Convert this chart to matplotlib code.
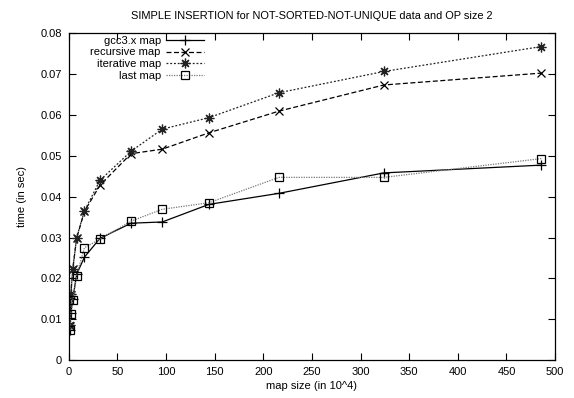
import matplotlib
matplotlib.use("Agg")
import matplotlib.pyplot as plt

# map sizes (in 10^4) and insertion times (sec) per map implementation
sizes = [1, 2, 4, 8, 16, 32, 64, 96, 144, 216, 324, 486]
gcc_map = [0.0075, 0.0115, 0.0150, 0.0210, 0.0252, 0.0298, 0.0335, 0.0338, 0.0381, 0.0408, 0.0458, 0.0477]
recursive_map = [0.0083, 0.0160, 0.0222, 0.0299, 0.0364, 0.0428, 0.0505, 0.0516, 0.0556, 0.0609, 0.0673, 0.0702]
iterative_map = [0.0087, 0.0163, 0.0223, 0.0300, 0.0365, 0.0440, 0.0511, 0.0565, 0.0593, 0.0654, 0.0706, 0.0767]
last_map = [0.0073, 0.0113, 0.0146, 0.0207, 0.0275, 0.0296, 0.0340, 0.0369, 0.0385, 0.0447, 0.0447, 0.0493]

plt.rcParams["font.family"] = ["Liberation Sans", "DejaVu Sans"]
plt.rcParams["font.size"] = 8

fig = plt.figure(figsize=(5.74, 3.98), dpi=100)
ax = fig.add_axes([0.120, 0.095, 0.847, 0.822])

ax.plot(sizes, gcc_map, "-", color="black", lw=0.9, marker="+", ms=6.5, mew=0.9,
        label="gcc3.x map")
ax.plot(sizes, recursive_map, color="black", lw=0.9, ls=(0, (4, 2)), marker="x",
        ms=6, mew=0.9, label="recursive map")
# gnuplot's point type 3: plus and cross on top of each other
ax.plot(sizes, iterative_map, color="#222222", lw=0.9, ls=(0, (1.5, 1.5)),
        marker=(8, 2, 0), ms=7, mew=0.9, label="iterative map")
ax.plot(sizes, last_map, color="#777777", lw=0.9, ls=(0, (1, 1)), marker="s",
        ms=6, mew=0.9, mfc="none", mec="black", label="last map")

ax.set_xlim(0, 500)
ax.set_ylim(0, 0.08)
ax.set_xticks(range(0, 501, 50))
ax.set_yticks([i / 100 for i in range(0, 9)])
ax.set_yticklabels(["0"] + [f"{i / 100:.2f}" for i in range(1, 9)])
ax.tick_params(direction="in", length=5, width=0.8, top=True, right=True, pad=5)
for spine in ax.spines.values():
    spine.set_linewidth(0.9)

ax.set_xlabel("map size (in 10^4)", labelpad=3)
ax.set_ylabel("time (in sec)", labelpad=10)
ax.set_title("SIMPLE INSERTION for NOT-SORTED-NOT-UNIQUE data and OP size 2",
             fontsize=7.9, pad=10)

ax.legend(loc="upper right", bbox_to_anchor=(0.284, 1.0), frameon=False,
          markerfirst=False, handlelength=3.4, handletextpad=0.5,
          labelspacing=0.15, borderpad=0.25, borderaxespad=0.0)
leg = ax.get_legend()
for t in leg.get_texts():
    t.set_ha("right")
leg._legend_box.align = "right"

fig.savefig("out.png", dpi=100)
